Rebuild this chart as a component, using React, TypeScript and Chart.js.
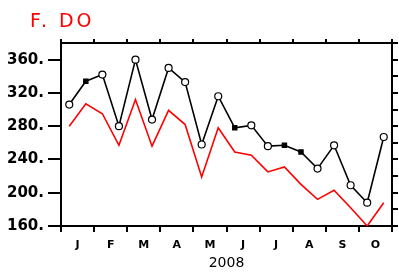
import React, { useEffect, useRef } from 'react';
import { Chart, registerables } from 'chart.js';
Chart.register(...registerables);

const titleText = 'F. DO';
const yearLabel = '2008';
const months = ['J', 'F', 'M', 'A', 'M', 'J', 'J', 'A', 'S', 'O'];
const blackSeries = [306, 334, 342, 280, 360, 288, 350, 333, 258, 316, 278, 281, 256, 257, 249, 229, 257, 209, 188, 267];
const redSeries = [280, 307, 295, 257, 312, 256, 299, 282, 219, 278, 249, 245, 225, 231, 210, 192, 203, 182, 160, 188];
const filledPoints = [1, 10, 13, 14];
const yLabelValues = [160, 200, 240, 280, 320, 360];
const yMin = 160;
const yMax = 380;

export default function App() {
  const ref = useRef<HTMLCanvasElement | null>(null);
  useEffect(() => {
    if (!ref.current) return;
    const periods = blackSeries.length;
    const toPts = (arr: number[]) => arr.map((v, i) => ({ x: i + 0.5, y: v }));
    const titlePlugin = {
      id: 'titleText',
      afterDraw(chart: any) {
        const ctx = chart.ctx;
        ctx.save();
        ctx.fillStyle = '#ff0000';
        ctx.font = '19px "DejaVu Sans"';
        (ctx as any).letterSpacing = '3px';
        ctx.textBaseline = 'alphabetic';
        ctx.textAlign = 'left';
        ctx.fillText(titleText, 30, 27);
        ctx.restore();
      },
    };
    const gridBase = { drawOnChartArea: false, drawTicks: true, lineWidth: 2, color: '#000' };
    const border = { display: true, color: '#000', width: 2 };
    const chart = new Chart(ref.current, {
      type: 'line',
      data: {
        datasets: [
          {
            data: toPts(blackSeries),
            borderColor: '#000',
            borderWidth: 1.6,
            pointStyle: blackSeries.map((_, i) => (filledPoints.includes(i) ? 'rect' : 'circle')) as any,
            pointRadius: blackSeries.map((_, i) => (filledPoints.includes(i) ? 3 : 3.5)),
            pointBackgroundColor: blackSeries.map((_, i) => (filledPoints.includes(i) ? '#000' : '#fff')),
            pointBorderColor: '#000',
            pointBorderWidth: 1.2,
            tension: 0,
            xAxisID: 'x',
            yAxisID: 'y',
          },
          {
            data: toPts(redSeries),
            borderColor: '#ff0000',
            borderWidth: 1.6,
            pointRadius: 0,
            tension: 0,
            xAxisID: 'x',
            yAxisID: 'y',
          },
        ],
      },
      options: {
        animation: false,
        responsive: false,
        maintainAspectRatio: false,
        layout: { padding: 0 },
        plugins: { legend: { display: false }, tooltip: { enabled: false }, title: { display: false } },
        scales: {
          x: {
            type: 'linear',
            position: 'bottom',
            min: 0,
            max: periods,
            afterFit: (s: any) => { s.height = 46; },
            ticks: {
              stepSize: 1,
              autoSkip: false,
              maxRotation: 0,
              padding: 7,
              color: '#000',
              font: { family: 'DejaVu Sans', size: 11, weight: 'bold' },
              callback: (v: any) => (Number(v) % 2 === 1 ? months[(Number(v) - 1) / 2] : ''),
            },
            grid: {
              ...gridBase,
              tickLength: 6,
              color: (c: any) => (c.tick && c.tick.value % 2 === 0 ? '#000' : 'rgba(0,0,0,0)'),
            },
            border,
            title: {
              display: true,
              text: yearLabel,
              color: '#000',
              font: { family: 'DejaVu Sans', size: 14 },
              padding: { top: 0, bottom: 0 },
            },
          },
          xTop: {
            type: 'linear',
            position: 'top',
            min: 0,
            max: periods,
            afterFit: (s: any) => { s.height = 43; },
            ticks: { display: false, stepSize: 2 },
            grid: { ...gridBase, tickLength: 4 },
            border,
          },
          y: {
            type: 'linear',
            position: 'left',
            min: yMin,
            max: yMax,
            afterFit: (s: any) => { s.width = 61; },
            ticks: {
              stepSize: 20,
              padding: 4,
              color: '#000',
              font: { family: 'DejaVu Sans', size: 15, weight: 'bold' },
              callback: (v: any) => (yLabelValues.includes(Number(v)) ? v + '.' : ''),
            },
            grid: { ...gridBase, tickLength: 13 },
            border,
          },
          yRight: {
            type: 'linear',
            position: 'right',
            min: yMin,
            max: yMax,
            afterFit: (s: any) => { s.width = 7; },
            ticks: { display: false, stepSize: 20 },
            grid: { ...gridBase, tickLength: 6 },
            border,
          },
        },
      } as any,
      plugins: [titlePlugin],
    });
    return () => chart.destroy();
  }, []);
  return (
    <div style={{ position: 'fixed', left: 0, top: 0, width: 399, height: 272, background: '#fff' }}>
      <canvas ref={ref} width={399} height={272} style={{ display: 'block' }} />
    </div>
  );
}
